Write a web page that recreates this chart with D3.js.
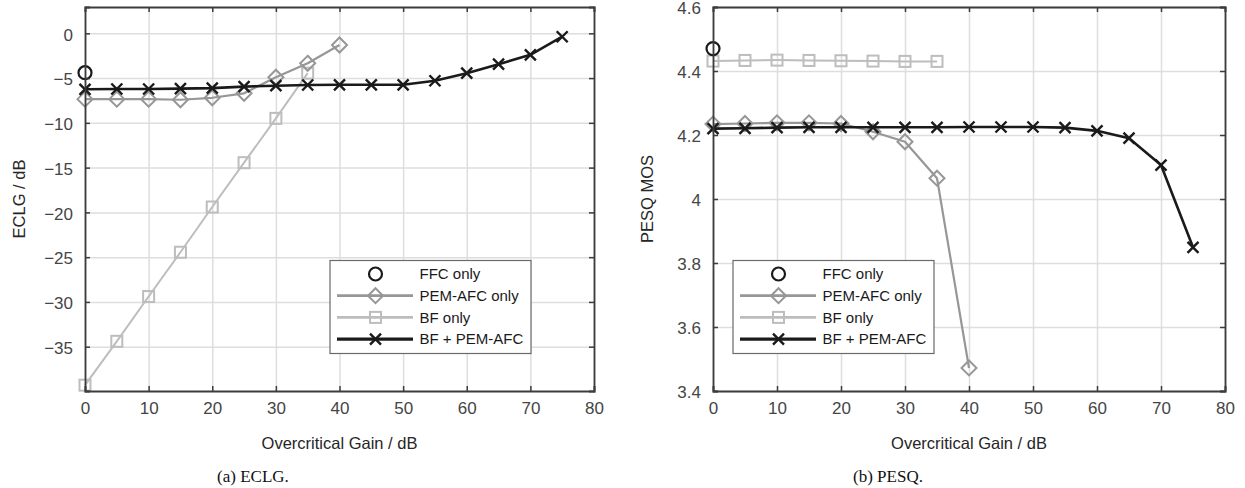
<!DOCTYPE html>
<html>
<head>
<meta charset="utf-8">
<script src="https://cdn.jsdelivr.net/npm/d3@7"></script>
<style>
  body { margin: 0; background: #fff; }
  svg { display: block; }
</style>
</head>
<body>
<script>
// gain values (x axis)
var gainAll = [0, 5, 10, 15, 20, 25, 30, 35, 40, 45, 50, 55, 60, 65, 70, 75];
var gainPem = [0, 5, 10, 15, 20, 25, 30, 35, 40];
var gainBf = [0, 5, 10, 15, 20, 25, 30, 35];
var gainFfc = [0];

// (a) ECLG in dB
var eclgFfc = [-4.4];
var eclgPem = [-7.35, -7.35, -7.35, -7.42, -7.2, -6.7, -4.9, -3.35, -1.3];
var eclgBf = [-39.3, -34.4, -29.4, -24.45, -19.4, -14.45, -9.5, -4.45];
var eclgBfPem = [-6.25, -6.22, -6.22, -6.18, -6.12, -5.95, -5.85, -5.77, -5.75, -5.75, -5.75, -5.3, -4.45, -3.45, -2.4, -0.38];

// (b) PESQ MOS
var pesqFfc = [4.47];
var pesqPem = [4.234, 4.236, 4.238, 4.238, 4.236, 4.21, 4.179, 4.065, 3.472];
var pesqBf = [4.431, 4.433, 4.434, 4.433, 4.432, 4.431, 4.43, 4.43];
var pesqBfPem = [4.22, 4.221, 4.223, 4.224, 4.224, 4.224, 4.224, 4.224, 4.225, 4.225, 4.225, 4.223, 4.213, 4.19, 4.106, 3.849];

var xTicks = [0, 10, 20, 30, 40, 50, 60, 70, 80];
var eclgTicks = [-35, -30, -25, -20, -15, -10, -5, 0];
var pesqTicks = [3.4, 3.6, 3.8, 4, 4.2, 4.4, 4.6];

var legendNames = ["FFC only", "PEM-AFC only", "BF only", "BF + PEM-AFC"];

var width = 1245, height = 488;
var sans = "Liberation Sans, Arial, sans-serif";
var svg = d3.select("body").append("svg").attr("width", width).attr("height", height)
  .attr("font-family", sans);

// styles of each series: circle, diamond, square, cross
var styles = [
  {color: "#1a1a1a", lw: 0, marker: "circle"},
  {color: "#979797", lw: 2.2, marker: "diamond"},
  {color: "#bdbdbd", lw: 2, marker: "square"},
  {color: "#1a1a1a", lw: 2.6, marker: "cross"}
];

function drawMarker(g, type, color, x, y) {
  if (type == "circle") {
    g.append("circle").attr("cx", x).attr("cy", y).attr("r", 6.5)
      .attr("fill", "none").attr("stroke", color).attr("stroke-width", 2.2);
  } else if (type == "diamond") {
    var s = 7.5;
    g.append("path").attr("d", "M" + x + "," + (y - s) + "L" + (x + s) + "," + y + "L" + x + "," + (y + s) + "L" + (x - s) + "," + y + "Z")
      .attr("fill", "none").attr("stroke", color).attr("stroke-width", 2);
  } else if (type == "square") {
    var h = 5.5;
    g.append("rect").attr("x", x - h).attr("y", y - h).attr("width", 2 * h).attr("height", 2 * h)
      .attr("fill", "none").attr("stroke", color).attr("stroke-width", 2);
  } else {
    var c = 5.5;
    g.append("path").attr("d", "M" + (x - c) + "," + (y - c) + "L" + (x + c) + "," + (y + c) + "M" + (x - c) + "," + (y + c) + "L" + (x + c) + "," + (y - c))
      .attr("fill", "none").attr("stroke", color).attr("stroke-width", 2.4);
  }
}

function panel(opt) {
  var w = opt.right - opt.left, h = opt.bottom - opt.top;
  var x = d3.scaleLinear().domain([0, 80]).range([0, w]);
  var y = d3.scaleLinear().domain(opt.yDomain).range([h, 0]);

  var g = svg.append("g").attr("transform", "translate(" + opt.left + "," + opt.top + ")");

  // grid
  g.append("g").attr("transform", "translate(0," + h + ")")
    .call(d3.axisBottom(x).tickValues(xTicks).tickSize(-h).tickFormat(""))
    .call(a => a.select(".domain").remove())
    .selectAll("line").attr("stroke", "#dedede").attr("stroke-width", 1.5);
  g.append("g")
    .call(d3.axisLeft(y).tickValues(opt.yTicks).tickSize(-w).tickFormat(""))
    .call(a => a.select(".domain").remove())
    .selectAll("line").attr("stroke", "#dedede").attr("stroke-width", 1.5);

  // series
  var series = [
    [gainFfc, opt.data[0]],
    [gainPem, opt.data[1]],
    [gainBf, opt.data[2]],
    [gainAll, opt.data[3]]
  ];
  var line = d3.line().x(d => x(d[0])).y(d => y(d[1]));
  var plotG = g.append("g");
  // draw in order: BF only, PEM-AFC, BF + PEM-AFC, FFC
  [2, 1, 3, 0].forEach(function(k) {
    var pts = series[k][0].map((v, i) => [v, series[k][1][i]]);
    var st = styles[k];
    if (st.lw > 0) {
      plotG.append("path").datum(pts).attr("d", line)
        .attr("fill", "none").attr("stroke", st.color).attr("stroke-width", st.lw)
        .attr("stroke-linejoin", "round");
    }
    pts.forEach(p => drawMarker(plotG, st.marker, st.color, x(p[0]), y(p[1])));
  });

  // axes with inward ticks on all sides
  var axisColor = "#3c3c3c";
  var bottomAx = g.append("g").attr("transform", "translate(0," + h + ")")
    .call(d3.axisBottom(x).tickValues(xTicks).tickSize(-5).tickPadding(11).tickFormat(d3.format("d")));
  var leftAx = g.append("g")
    .call(d3.axisLeft(y).tickValues(opt.yTicks).tickSize(-5).tickPadding(12).tickFormat(opt.fmt));
  var topAx = g.append("g")
    .call(d3.axisTop(x).tickValues(xTicks).tickSize(-5).tickFormat(""));
  var rightAx = g.append("g").attr("transform", "translate(" + w + ",0)")
    .call(d3.axisRight(y).tickValues(opt.yTicks).tickSize(-5).tickFormat(""));
  [bottomAx, leftAx, topAx, rightAx].forEach(function(a) {
    a.attr("font-family", sans).attr("font-size", 17);
    a.select(".domain").attr("stroke", axisColor).attr("stroke-width", 1.8);
    a.selectAll(".tick line").attr("stroke", axisColor).attr("stroke-width", 1.5);
    a.selectAll(".tick text").attr("fill", "#454545");
  });
  bottomAx.selectAll(".tick text").attr("dy", "0.71em");
  leftAx.selectAll(".tick text").attr("dy", "0.4em");

  // axis labels
  g.append("text").attr("x", w / 2).attr("y", h + 58).attr("text-anchor", "middle")
    .attr("font-size", 16.5).attr("fill", "#262626").text("Overcritical Gain / dB");
  g.append("text").attr("transform", "translate(" + opt.yLabelX + "," + h / 2 + ") rotate(-90)")
    .attr("text-anchor", "middle").attr("font-size", 16.5).attr("fill", "#262626").text(opt.yLabel);

  // caption
  svg.append("text").attr("x", opt.captionX).attr("y", 482).attr("text-anchor", "middle")
    .attr("font-family", "Liberation Serif, Times New Roman, serif").attr("font-size", 17)
    .attr("fill", "#111").text(opt.caption);

  // legend
  var lg = svg.append("g").attr("transform", "translate(" + opt.legendX + ",260.5)");
  lg.append("rect").attr("width", 201).attr("height", 93).attr("fill", "#fff")
    .attr("stroke", "#6a6a6a").attr("stroke-width", 1.2);
  legendNames.forEach(function(name, i) {
    var yy = 13.5 + i * 21.7;
    var st = styles[i];
    if (st.lw > 0) {
      lg.append("line").attr("x1", 7).attr("x2", 83).attr("y1", yy).attr("y2", yy)
        .attr("stroke", st.color).attr("stroke-width", st.lw + 0.6);
    }
    drawMarker(lg, st.marker, st.color, 45.5, yy);
    lg.append("text").attr("x", 89.5).attr("y", yy).attr("dy", "0.35em")
      .attr("font-size", 15).attr("fill", "#1a1a1a").text(name);
  });
}

panel({
  left: 85, right: 594, top: 7, bottom: 391,
  yDomain: [-39.95, 2.94], yTicks: eclgTicks, fmt: d3.format("d"),
  yLabel: "ECLG / dB", yLabelX: -60,
  data: [eclgFfc, eclgPem, eclgBf, eclgBfPem],
  caption: "(a) ECLG.", captionX: 253, legendX: 330
});

panel({
  left: 713, right: 1225, top: 7, bottom: 391,
  yDomain: [3.4, 4.6], yTicks: pesqTicks, fmt: d => d3.format("")(+d.toFixed(1)),
  yLabel: "PESQ MOS", yLabelX: -60,
  data: [pesqFfc, pesqPem, pesqBf, pesqBfPem],
  caption: "(b) PESQ.", captionX: 888, legendX: 733
});
</script>
</body>
</html>
